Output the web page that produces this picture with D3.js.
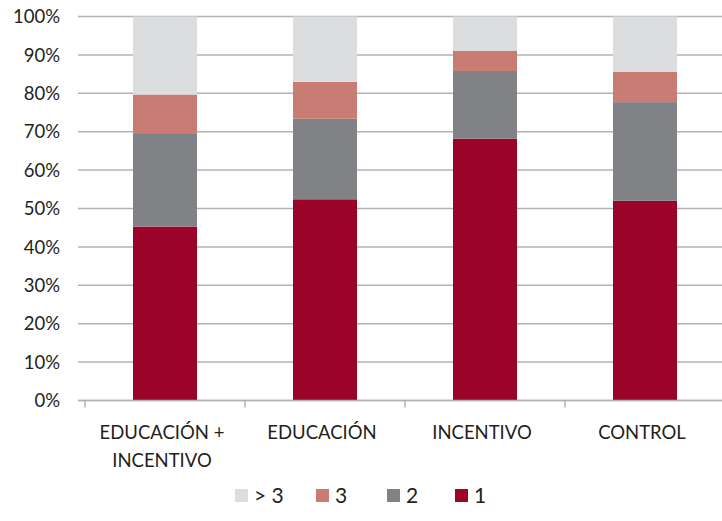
<!DOCTYPE html>
<html>
<head>
<meta charset="utf-8">
<script src="https://cdn.jsdelivr.net/npm/d3@7"></script>
<style>
  body { margin: 0; background: #fff; }
  text { font-family: Lato, "Open Sans", sans-serif; fill: #231f20; }
</style>
</head>
<body>
<div id="chart"></div>
<script>
// data (percent of each group)
var categories = [["EDUCACIÓN +", "INCENTIVO"], ["EDUCACIÓN"], ["INCENTIVO"], ["CONTROL"]];
var seriesNames = ["1", "2", "3", "> 3"];
var s1 = [45.3, 52.4, 68.2, 52.0];
var s2 = [24.1, 21.0, 17.6, 25.7];
var s3 = [10.3, 9.6, 5.3, 7.9];
var s4 = [20.3, 17.0, 8.9, 14.4];
var yTicks = [0, 10, 20, 30, 40, 50, 60, 70, 80, 90, 100];
var colors = ["#9c0329", "#818286", "#c97c74", "#dcdddf"];

var width = 722, height = 521;
var svg = d3.select("#chart").append("svg")
    .attr("width", width)
    .attr("height", height);

var x = d3.scaleBand()
    .domain(d3.range(categories.length))
    .range([85, 725])
    .paddingInner(0.6)
    .paddingOuter(0.3);

var y = d3.scaleLinear().domain([0, 100]).range([400.5, 16.5]);

// gridlines
svg.append("g").selectAll("line")
    .data(yTicks)
    .enter().append("line")
    .attr("x1", 78).attr("x2", width)
    .attr("y1", function(d) { return y(d); })
    .attr("y2", function(d) { return y(d); })
    .attr("stroke", "#b3b3b6")
    .attr("stroke-width", 1.5);

// y labels
svg.append("g").selectAll("text")
    .data(yTicks)
    .enter().append("text")
    .attr("x", 60)
    .attr("y", function(d) { return y(d); })
    .attr("dy", "0.36em")
    .attr("text-anchor", "end")
    .style("font-size", "18.5px")
    .text(function(d) { return d + "%"; });

// stacked bars
var rows = categories.map(function(c, i) {
    return { i: i, "1": s1[i], "2": s2[i], "3": s3[i], "> 3": s4[i] };
});
var stack = d3.stack().keys(seriesNames)(rows);

svg.append("g").selectAll("g")
    .data(stack)
    .enter().append("g")
    .attr("fill", function(d, k) { return colors[k]; })
    .selectAll("rect")
    .data(function(d) { return d; })
    .enter().append("rect")
    .attr("x", function(d) { return x(d.data.i); })
    .attr("width", x.bandwidth())
    .attr("y", function(d) { return y(d[1]); })
    .attr("height", function(d) { return y(d[0]) - y(d[1]); });

// x axis line + ticks between categories
var step = x.step();
var tickXs = d3.range(categories.length).map(function(i) { return 85 + i * step; });
svg.append("line")
    .attr("x1", 78).attr("x2", width)
    .attr("y1", y(0)).attr("y2", y(0))
    .attr("stroke", "#b3b3b6").attr("stroke-width", 1.5);
svg.append("g").selectAll("line")
    .data(tickXs)
    .enter().append("line")
    .attr("x1", function(d) { return d; })
    .attr("x2", function(d) { return d; })
    .attr("y1", y(0)).attr("y2", y(0) + 7)
    .attr("stroke", "#b3b3b6").attr("stroke-width", 1.5);

// category labels
var catText = svg.append("g").selectAll("text")
    .data(categories)
    .enter().append("text")
    .attr("text-anchor", "middle")
    .attr("x", function(d, i) { return x(i) + x.bandwidth() / 2 - 3; })
    .attr("y", 439)
    .style("font-size", "18.5px");
catText.selectAll("tspan")
    .data(function(d) { return d; })
    .enter().append("tspan")
    .attr("x", function() { return d3.select(this.parentNode).attr("x"); })
    .attr("dy", function(d, j) { return j === 0 ? 0 : 28; })
    .text(function(d) { return d; });

// legend
var legendItems = [
    { name: "> 3", color: colors[3], x: 235 },
    { name: "3", color: colors[2], x: 316 },
    { name: "2", color: colors[1], x: 387 },
    { name: "1", color: colors[0], x: 455 }
];
var lg = svg.append("g").selectAll("g")
    .data(legendItems)
    .enter().append("g")
    .attr("transform", function(d) { return "translate(" + d.x + ",489)"; });
lg.append("rect")
    .attr("width", 13).attr("height", 13)
    .attr("fill", function(d) { return d.color; });
lg.append("text")
    .attr("x", 19).attr("y", 14)
    .style("font-size", "21px")
    .text(function(d) { return d.name; });
</script>
</body>
</html>
